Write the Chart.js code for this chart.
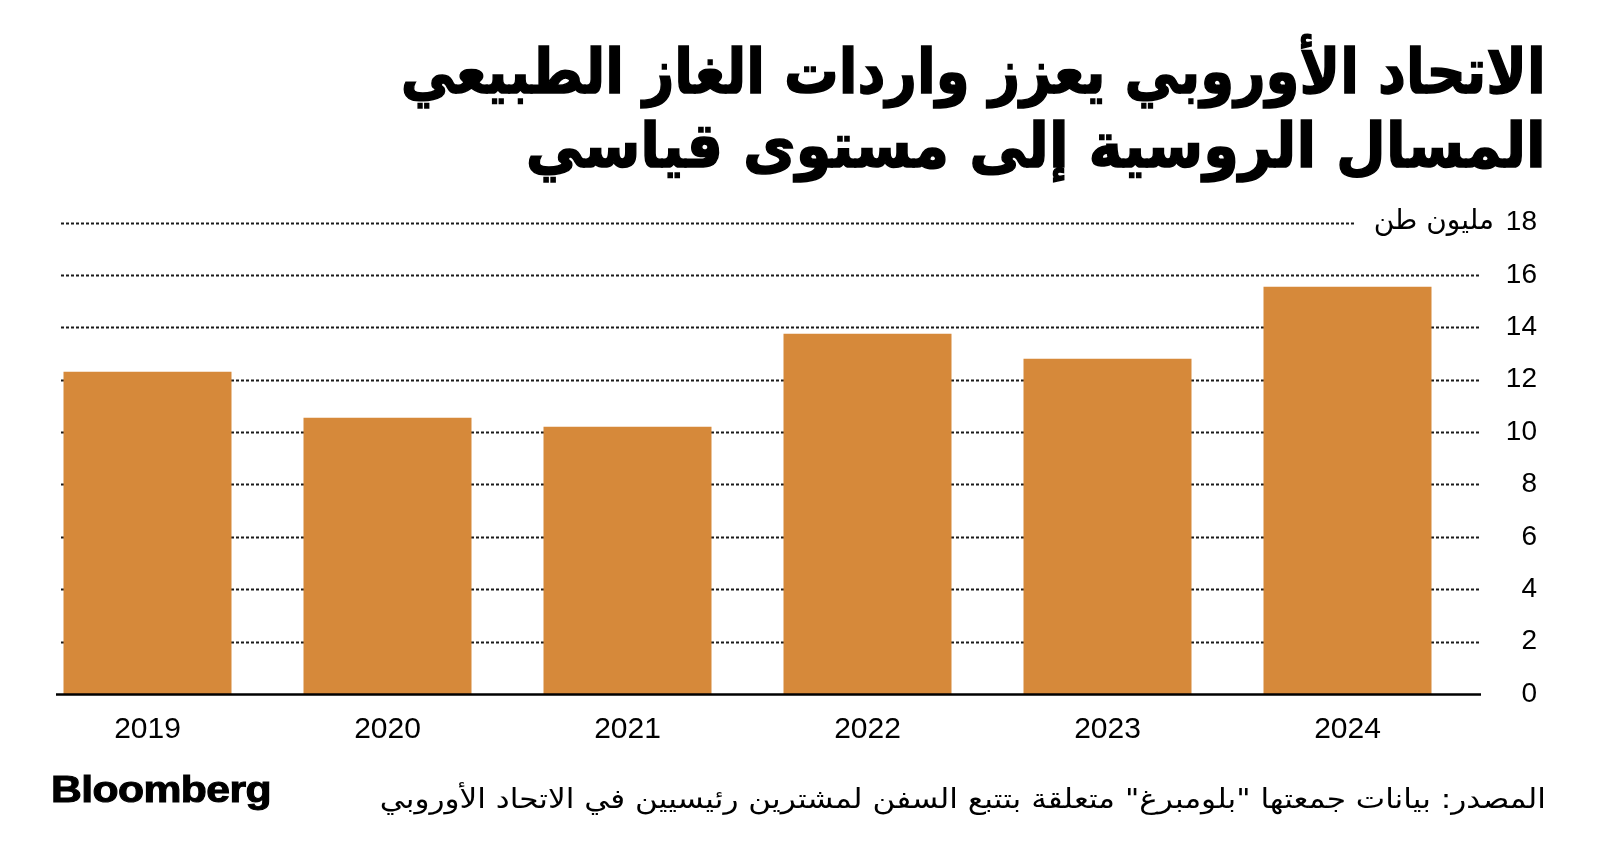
<!DOCTYPE html>
<html lang="ar">
<head>
<meta charset="utf-8">
<script src="https://cdn.jsdelivr.net/npm/chart.js@4.4.1/dist/chart.umd.min.js"></script>
<style>
  html, body { margin: 0; padding: 0; background: #fff; }
  #wrap { position: relative; width: 1600px; height: 867px; overflow: hidden; }
  #chart { position: absolute; left: 0; top: 0; }
  .line { position: absolute; right: 54px; white-space: nowrap; direction: rtl; transform-origin: right center; color: #000; }
  .title { font-family: "DejaVu Sans", sans-serif; font-weight: 700; font-size: 62px; -webkit-text-stroke: 1.5px #000; }
  #t1 { top: 35px; }
  #t2 { top: 109px; }
  #source { top: 783px; font-family: "DejaVu Sans", sans-serif; font-size: 27px; }
  #logo { position: absolute; left: 51px; top: 769px; font-family: "Liberation Sans", Arial, sans-serif; font-weight: 700; font-size: 36px; letter-spacing: -0.5px; -webkit-text-stroke: 1px #000; transform-origin: left center; }
</style>
</head>
<body>
<div id="wrap">
  <canvas id="chart" width="1600" height="867"></canvas>
  <div class="line title" id="t1" data-w="1145">الاتحاد الأوروبي يعزز واردات الغاز الطبيعي</div>
  <div class="line title" id="t2" data-w="1020">المسال الروسية إلى مستوى قياسي</div>
  <div class="line" id="source" data-w="1166">المصدر: بيانات جمعتها "بلومبرغ" متعلقة بتتبع السفن لمشترين رئيسيين في الاتحاد الأوروبي</div>
  <div id="logo" data-w="220">Bloomberg</div>
</div>
<script>
// data
const years = ['2019', '2020', '2021', '2022', '2023', '2024'];
const imports = [12.3, 10.55, 10.2, 13.75, 12.8, 15.55];
const yTicks = [0, 2, 4, 6, 8, 10, 12, 14, 16, 18];
const unitLabel = 'مليون طن';

const barColor = '#D6893A';

// squeeze the html text to the widths seen in the picture
document.querySelectorAll('[data-w]').forEach(el => {
    const w = el.getBoundingClientRect().width;
    el.style.transform = 'scaleX(' + (parseFloat(el.dataset.w) / w) + ')';
});

// dotted grid, base line and unit text drawn on the y scale
const gridPlugin = {
    id: 'gridPlugin',
    beforeDatasetsDraw(chart) {
        const ctx = chart.ctx;
        const y = chart.scales.y;
        ctx.save();
        ctx.strokeStyle = '#1a1a1a';
        ctx.lineWidth = 2;
        ctx.setLineDash([3, 2]);
        yTicks.forEach(v => {
            if (v === 0) return;
            const py = Math.round(y.getPixelForValue(v)) + 0.5;
            const right = v === 18 ? 1355 : 1481;
            ctx.beginPath();
            ctx.moveTo(61, py);
            ctx.lineTo(right, py);
            ctx.stroke();
        });
        ctx.restore();
    },
    afterDatasetsDraw(chart) {
        const ctx = chart.ctx;
        const y = chart.scales.y;
        const py = y.getPixelForValue(0);
        ctx.save();
        ctx.strokeStyle = '#000';
        ctx.lineWidth = 2.5;
        ctx.beginPath();
        ctx.moveTo(56, py + 0.5);
        ctx.lineTo(1481, py + 0.5);
        ctx.stroke();

        ctx.fillStyle = '#000';
        ctx.font = '28px "DejaVu Sans", sans-serif';
        ctx.textAlign = 'right';
        ctx.textBaseline = 'middle';
        ctx.fillText(unitLabel, 1494, y.getPixelForValue(18) - 1);
        ctx.restore();
    }
};

new Chart(document.getElementById('chart'), {
    type: 'bar',
    data: {
        labels: years,
        datasets: [{
            data: imports,
            backgroundColor: barColor,
            borderWidth: 0,
            barPercentage: 0.7,
            categoryPercentage: 1.0
        }]
    },
    options: {
        responsive: false,
        animation: false,
        layout: { padding: { left: 27.5, right: 63, top: 222.5, bottom: 113 } },
        plugins: { legend: { display: false }, tooltip: { enabled: false } },
        scales: {
            x: {
                grid: { display: false, drawTicks: false },
                border: { display: false },
                ticks: {
                    color: '#000',
                    padding: 18,
                    font: { family: '"Liberation Sans", Arial, sans-serif', size: 30 }
                },
                afterFit(scale) { scale.height = 60; }
            },
            y: {
                position: 'right',
                min: 0,
                max: 18,
                grid: { display: false, drawTicks: false },
                border: { display: false },
                afterBuildTicks(scale) { scale.ticks = yTicks.map(v => ({ value: v })); },
                ticks: {
                    color: '#000',
                    padding: 38,
                    crossAlign: 'far',
                    font: { family: '"Liberation Sans", Arial, sans-serif', size: 28 }
                },
                afterFit(scale) { scale.width = 69.5; }
            }
        }
    },
    plugins: [gridPlugin]
});
</script>
</body>
</html>
